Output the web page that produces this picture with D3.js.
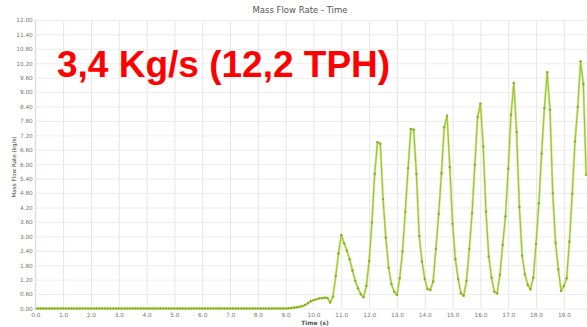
<!DOCTYPE html>
<html><head><meta charset="utf-8">
<script src="https://cdn.jsdelivr.net/npm/d3@7/dist/d3.min.js"></script>
<style>
html,body{margin:0;padding:0;background:#fff;}
svg{display:block;}
</style></head>
<body>
<svg id="c" width="587" height="327"></svg>
<script>
// ---- data ----
const chartTitle = "Mass Flow Rate - Time";
const xLabel = "Time (s)";
const yLabel = "Mass Flow Rate (kg/s)";
const annotation = "3,4 Kg/s (12,2 TPH)";
const sampleStart = 0.0;   // s
const sampleStep = 0.1;    // s
const massFlow = [
  0,0,0,0,0,0,0,0,0,0,
  0,0,0,0,0,0,0,0,0,0,
  0,0,0,0,0,0,0,0,0,0,
  0,0,0,0,0,0,0,0,0,0,
  0,0,0,0,0,0,0,0,0,0,
  0,0,0,0,0,0,0,0,0,0,
  0,0,0,0,0,0,0,0,0,0,
  0,0,0,0,0,0,0,0,0,0,
  0,0,0,0,0,0,0,0,0,0,
  0.00,0.01,0.02,0.03,0.05,0.07,0.10,0.15,0.22,0.30,
  0.35,0.38,0.42,0.43,0.45,0.44,0.25,0.50,1.35,2.30,
  3.06,2.71,2.41,2.05,1.58,1.15,0.84,0.59,0.47,0.94,
  1.97,3.58,5.60,6.92,6.85,4.55,2.95,1.70,1.02,0.70,
  0.56,1.26,2.37,4.03,5.84,7.47,7.44,5.59,3.02,1.95,
  1.23,0.81,0.77,1.12,2.47,3.93,5.63,7.55,8.02,5.88,
  3.52,2.05,1.23,0.63,0.53,1.15,2.47,3.97,5.98,7.97,
  8.52,6.74,4.03,2.16,1.28,0.70,0.63,1.40,2.65,3.83,
  5.81,8.06,9.38,7.34,4.22,2.20,1.42,0.98,0.80,1.28,
  2.69,4.38,6.44,8.34,9.83,8.27,4.80,2.74,1.63,0.73,
  0.94,1.26,2.78,4.77,6.95,8.38,10.28,9.34,5.56
];
const xGridValues = [0,1,2,3,4,5,6,7,8,9,10,11,12,13,14,15,16,17,18,19,20];
const xTickValues = [0,1,2,3,4,5,6,7,8,9,10,11,12,13,14,15,16,17,18,19];
const xTickLabels = ["0.0","1.0","2.0","3.0","4.0","5.0","6.0","7.0","8.0","9.0","10.0","11.0","12.0","13.0","14.0","15.0","16.0","17.0","18.0","19.0"];
const yTickValues = [0,0.6,1.2,1.8,2.4,3.0,3.6,4.2,4.8,5.4,6.0,6.6,7.2,7.8,8.4,9.0,9.6,10.2,10.8,11.4,12.0];
const yTickLabels = ["0.00","0.60","1.20","1.80","2.40","3.00","3.60","4.20","4.80","5.40","6.00","6.60","7.20","7.80","8.40","9.00","9.60","10.20","10.80","11.40","12.00"];

// ---- layout ----
const W = 587, H = 327;
const plotLeft = 35.3, plotTop = 20, plotBottom = 308.5;
const pxPerSec = 27.82;
const svg = d3.select("#c");
const x = d3.scaleLinear().domain([0, 20]).range([plotLeft, plotLeft + 20 * pxPerSec]);
const y = d3.scaleLinear().domain([0, 12]).range([plotBottom, plotTop]);
const pts = massFlow.map((v, i) => ({t: sampleStart + i * sampleStep, v}));

svg.append("defs").append("clipPath").attr("id","clip")
  .append("rect").attr("x", plotLeft).attr("y", 0).attr("width", W - plotLeft).attr("height", H);

// grid
const g = svg.append("g").attr("clip-path","url(#clip)");
g.append("g").attr("transform", `translate(0,${plotBottom})`)
  .call(d3.axisBottom(x).tickValues(xGridValues).tickSize(-(plotBottom - plotTop)).tickFormat(""))
  .call(s => s.select(".domain").remove())
  .call(s => s.selectAll("line").attr("stroke", "#e6e6e6").attr("stroke-width", 1));
g.append("g").attr("transform", `translate(${plotLeft},0)`)
  .call(d3.axisLeft(y).tickValues(yTickValues).tickSize(-(W - plotLeft)).tickFormat(""))
  .call(s => s.select(".domain").remove())
  .call(s => s.selectAll("line").attr("stroke", "#ececec").attr("stroke-width", 1));

// left axis line
svg.append("line").attr("x1", plotLeft).attr("x2", plotLeft).attr("y1", plotTop).attr("y2", plotBottom)
  .attr("stroke", "#d8d8d8");

// tick labels
const yAx = svg.append("g").attr("transform", `translate(${plotLeft},0)`)
  .call(d3.axisLeft(y).tickValues(yTickValues).tickSize(0).tickPadding(2.5)
    .tickFormat((d, i) => yTickLabels[i]));
yAx.select(".domain").remove();
yAx.selectAll("text").attr("font-family", "DejaVu Sans").attr("font-size", 5.8).attr("fill", "#777");

const xAx = svg.append("g").attr("transform", `translate(0,${plotBottom})`)
  .call(d3.axisBottom(x).tickValues(xTickValues).tickSize(0).tickPadding(4)
    .tickFormat((d, i) => xTickLabels[i]));
xAx.select(".domain").remove();
xAx.selectAll("text").attr("font-family", "DejaVu Sans").attr("font-size", 5.8).attr("fill", "#777");

// titles
svg.append("text").attr("x", 300).attr("y", 13).attr("text-anchor", "middle")
  .attr("font-family", "DejaVu Sans").attr("font-size", 8.5).attr("fill", "#555").text(chartTitle);
svg.append("text").attr("x", 315).attr("y", 324.5).attr("text-anchor", "middle")
  .attr("font-family", "DejaVu Sans").attr("font-weight", "bold").attr("font-size", 6).attr("fill", "#555").text(xLabel);
svg.append("text").attr("transform", "translate(16,167) rotate(-90)").attr("text-anchor", "middle")
  .attr("font-family", "DejaVu Sans").attr("font-size", 5.6).attr("fill", "#444").text(yLabel);

// series
const line = d3.line().x(d => x(d.t)).y(d => y(d.v));
g.append("path").datum(pts).attr("d", line).attr("fill", "none")
  .attr("stroke", "#d3e899").attr("stroke-width", 2.4).attr("stroke-linejoin", "round");
g.append("path").datum(pts).attr("d", line).attr("fill", "none")
  .attr("stroke", "#9cc431").attr("stroke-width", 1.1).attr("stroke-linejoin", "round");
g.append("g").selectAll("circle").data(pts).join("circle")
  .attr("cx", d => x(d.t)).attr("cy", d => y(d.v)).attr("r", 1.2)
  .attr("fill", "#86b022");

// annotation
svg.append("text").attr("x", 57).attr("y", 77)
  .attr("font-family", "Liberation Sans, Arial, sans-serif").attr("font-weight", "bold")
  .attr("font-size", 37).attr("fill", "#ff0000").text(annotation);
</script>
</body></html>
